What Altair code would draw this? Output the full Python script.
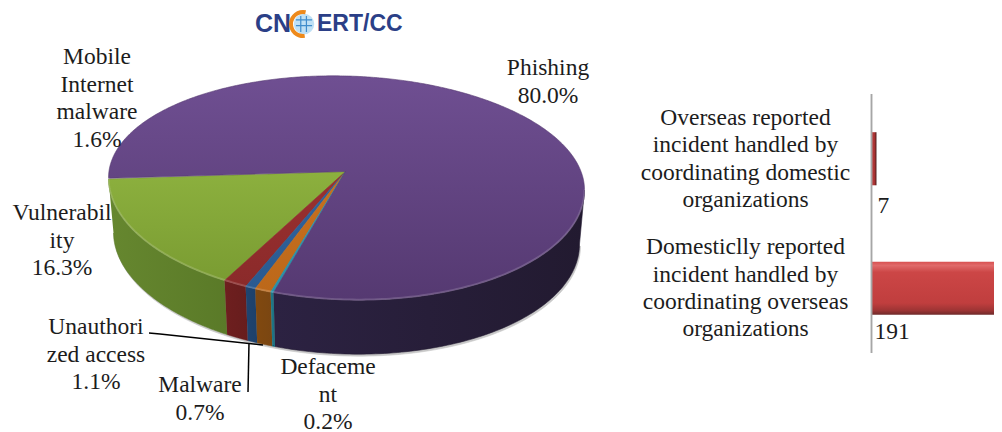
import numpy as np
import pandas as pd
import altair as alt

# ---- data ----
pie_names = ["Vulnerability", "Mobile Internet malware", "Malware", "Unauthorized access", "Defacement", "Phishing"]
pie_shares = [16.3, 1.6, 0.7, 1.1, 0.2, 80.0]
pie_labels = ["Vulnerabil|ity|16.3%", "Mobile|Internet|malware|1.6%", "Malware|0.7%",
              "Unauthori|zed access|1.1%", "Defaceme|nt|0.2%", "Phishing|80.0%"]
bar_names = ["Overseas reported|incident handled by|coordinating domestic|organizations",
             "Domesticlly reported|incident handled by|coordinating overseas|organizations"]
bar_values = [7, 191]

# ---- layout and style (page pixels) ----
W, H = 986, 424
FONT = "Liberation Serif"
FS = 23.5
TXT = "#1c1c1c"
CX, CY, RX, RY_TOP, RY_BOT = 346.5, 184, 238, 108, 116
APEX = (345.5, 171.5)
TILT, START = 6, 0.5
DEPTH, RX_BOTTOM = 54, 233
label_pos = {"Vulnerability": (62, 213), "Mobile Internet malware": (97, 57), "Malware": (200, 385),
             "Unauthorized access": (96, 327), "Defacement": (328, 367), "Phishing": (548, 68)}
top_colors = {
    "Vulnerability": ("#8cb03e", "#7a9c32"), "Mobile Internet malware": ("#9c3030", "#8a2a2a"),
    "Malware": ("#2f64a0", "#2a5a90"), "Unauthorized access": ("#c8701e", "#bc681a"),
    "Defacement": ("#2c9ab4", "#2890a8"), "Phishing": ("#6f4f92", "#553971")}
side_colors = {
    "Vulnerability": ("#66872f", "#5a7a28"), "Mobile Internet malware": ("#6e1f1f", "#671d1d"),
    "Malware": ("#1f4470", "#1d406a"), "Unauthorized access": ("#81490f", "#7a4612"),
    "Defacement": ("#1f7a8a", "#1c7080"), "Phishing": ("#2c2242", "#221a30")}

xs = alt.Scale(domain=[8, 8 + W], range=[0, W])
ys = alt.Scale(domain=[8, 8 + H], range=[0, H])


def rim(t_deg, depth=0.0):
    t = np.radians(t_deg)
    rx = RX if depth == 0 else RX_BOTTOM
    x = CX - rx * np.cos(t)
    s = np.sin(t)
    y = CY + np.where(s > 0, RY_BOT, RY_TOP) * s + TILT * (x - CX) / rx + depth
    return x, y


def poly(x, y, fill, stroke=None):
    df = pd.DataFrame({"x": x, "y": y, "o": range(len(x))})
    grad = alt.Gradient(gradient="linear", x1=0, x2=0, y1=0, y2=1,
                        stops=[alt.GradientStop(color=fill[0], offset=0), alt.GradientStop(color=fill[1], offset=1)])
    return alt.Chart(df).mark_line(fill=grad, stroke=stroke or fill[1], strokeWidth=0.6, interpolate="linear").encode(
        x=alt.X("x:Q", scale=xs, axis=None), y=alt.Y("y:Q", scale=ys, axis=None), order="o:Q")


def side_poly(x, y, fill):
    df = pd.DataFrame({"x": x, "y": y, "o": range(len(x))})
    grad = alt.Gradient(gradient="linear", x1=0, x2=1, y1=0, y2=0,
                        stops=[alt.GradientStop(color=fill[0], offset=0), alt.GradientStop(color=fill[1], offset=1)])
    return alt.Chart(df).mark_line(fill=grad, stroke=fill[1], strokeWidth=0.6).encode(
        x=alt.X("x:Q", scale=xs, axis=None), y=alt.Y("y:Q", scale=ys, axis=None), order="o:Q")


layers = []
# soft shadow under the pie
ts = np.linspace(0, 180, 120)
sx, sy = rim(ts, DEPTH + 2)
layers.append(side_poly(sx + 1, sy, ("#c8c8c8", "#c8c8c8")))

angles = START + np.concatenate([[0], np.cumsum(pie_shares)]) * 3.6
for n, a, b in zip(pie_names, angles[:-1], angles[1:]):
    a2, b2 = max(a, 0), min(b, 180)
    if a2 < b2:
        ts = np.linspace(a2, b2, 100)
        tx, ty = rim(ts)
        bx, by = rim(ts[::-1], DEPTH)
        layers.append(side_poly(np.r_[tx, bx], np.r_[ty, by], side_colors[n]))
for n, a, b in zip(pie_names, angles[:-1], angles[1:]):
    ts = np.linspace(a, b, max(3, int(b - a) * 2))
    tx, ty = rim(ts)
    layers.append(poly(np.r_[APEX[0], tx, APEX[0]], np.r_[APEX[1], ty, APEX[1]], top_colors[n]))

# faint highlight along the front rim of the top face
ts = np.linspace(0, 180, 180)
hx, hy = rim(ts)
layers.append(alt.Chart(pd.DataFrame({"x": hx, "y": hy - 0.5, "o": range(len(ts))})).mark_line(
    color="#ffffff", opacity=0.16, strokeWidth=2).encode(
    x=alt.X("x:Q", scale=xs, axis=None), y=alt.Y("y:Q", scale=ys, axis=None), order="o:Q"))

# pie labels
lab_df = pd.DataFrame({"label": pie_labels,
                       "x": [label_pos[n][0] for n in pie_names],
                       "y": [label_pos[n][1] for n in pie_names]})
layers.append(alt.Chart(lab_df).mark_text(font=FONT, fontSize=FS, color=TXT, lineBreak="|", lineHeight=27.6,
                                          align="center", baseline="middle").encode(
    x=alt.X("x:Q", scale=xs, axis=None), y=alt.Y("y:Q", scale=ys, axis=None), text="label:N"))

# leader lines
lead1 = pd.DataFrame({"x": [149, 160, 263], "y": [333, 334, 345], "o": [0, 1, 2]})
lead2 = pd.DataFrame({"x": [248, 249], "y": [392, 343], "o": [0, 1]})
for ld in (lead1, lead2):
    layers.append(alt.Chart(ld).mark_line(color="#000000", strokeWidth=1.5).encode(
        x=alt.X("x:Q", scale=xs, axis=None), y=alt.Y("y:Q", scale=ys, axis=None), order="o:Q"))

# bars
bar_df = pd.DataFrame({"name": bar_names, "value": bar_values})
bx = alt.Scale(domain=[0, 191], range=[863.5, 999.5])
by = alt.Scale(domain=bar_names, range=[86, 345], paddingInner=0.59, paddingOuter=0.295)
X_BAR = alt.X("value:Q", scale=bx, axis=None)
Y_BAR = alt.Y("name:N", scale=by, axis=None, sort=None)
red_v = alt.Gradient(gradient="linear", x1=0, x2=0, y1=0, y2=1, stops=[
    alt.GradientStop(color="#d85050", offset=0), alt.GradientStop(color="#e06a6a", offset=0.07),
    alt.GradientStop(color="#cc4646", offset=0.2), alt.GradientStop(color="#c03e3e", offset=0.78),
    alt.GradientStop(color="#9c3434", offset=0.92), alt.GradientStop(color="#6e2a2a", offset=1)])
red_h = alt.Gradient(gradient="linear", x1=0, x2=1, y1=0, y2=0, stops=[
    alt.GradientStop(color="#c04040", offset=0), alt.GradientStop(color="#a83232", offset=0.6),
    alt.GradientStop(color="#4e1a1a", offset=1)])
layers.append(alt.Chart(bar_df).transform_filter("datum.value < 100").mark_bar(fill=red_h, clip=True).encode(x=X_BAR, y=Y_BAR))
layers.append(alt.Chart(bar_df).transform_filter("datum.value >= 100").mark_bar(fill=red_v, clip=True).encode(x=X_BAR, y=Y_BAR))
layers.append(alt.Chart(bar_df).mark_rule(color="#a6a6a6", strokeWidth=1.5).encode(
    x=alt.datum(0, scale=bx, axis=None), y=alt.value(86), y2=alt.value(345)))
layers.append(alt.Chart(bar_df).mark_text(font=FONT, fontSize=FS, color=TXT, lineBreak="|", lineHeight=27.4,
                                          align="center", baseline="middle", dy=-41).encode(
    x=alt.value(737.5), y=Y_BAR, text="name:N"))
layers.append(alt.Chart(bar_df).transform_filter("datum.value < 100").mark_text(
    font=FONT, fontSize=FS, color=TXT, align="left", baseline="middle", dx=6, dy=47).encode(
    x=alt.datum(0, scale=bx, axis=None), y=Y_BAR, text="value:Q"))
layers.append(alt.Chart(bar_df).transform_filter("datum.value >= 100").mark_text(
    font=FONT, fontSize=FS, color=TXT, align="left", baseline="middle", dx=3, dy=44).encode(
    x=alt.datum(0, scale=bx, axis=None), y=Y_BAR, text="value:Q"))

# logo
NAVY = "#2b3f87"
logo = alt.Chart(pd.DataFrame({"a": [1]}))
layers.append(logo.mark_text(text="CN", font="Liberation Sans", fontWeight="bold", fontSize=25, color=NAVY,
                             align="right", baseline="middle").encode(x=alt.value(283), y=alt.value(16)))
layers.append(logo.mark_text(text="ERT/CC", font="Liberation Sans", fontWeight="bold", fontSize=23, color=NAVY,
                             align="left", baseline="middle").encode(x=alt.value(309), y=alt.value(16)))
layers.append(logo.mark_point(filled=True, shape="circle", size=420, color="#bfe0f5", opacity=1).encode(
    x=alt.value(296), y=alt.value(16)))
layers.append(logo.mark_point(shape="M-1,-0.5L1,-0.5M-1,0.2L1,0.2M-0.4,-1L-0.4,1M0.3,-1L0.3,1", size=260,
                              color="#3f8ccc", strokeWidth=1.2, opacity=1).encode(x=alt.value(296), y=alt.value(16)))
layers.append(logo.mark_arc(innerRadius=10, outerRadius=14, theta=3.0, theta2=6.5, color="#ee8a1c").encode(
    x=alt.value(295), y=alt.value(16)))

chart = alt.layer(*layers).resolve_scale(x="independent", y="independent").properties(
    width=W, height=H, padding=0, autosize=alt.AutoSizeParams(type="none"),
).configure_view(stroke=None, clip=False)
chart.save("out.html", embed_options={"renderer": "svg", "actions": False})
